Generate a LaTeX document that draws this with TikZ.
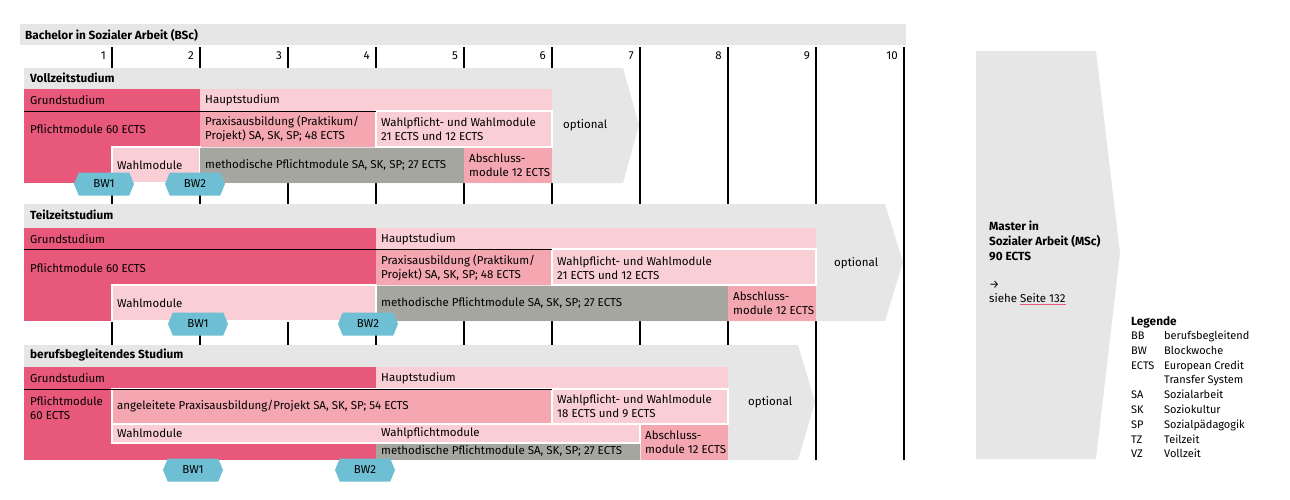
\documentclass[tikz,border=0pt]{standalone}
\usepackage{fontspec}
\setmainfont{Fira Sans}
\usepackage{xcolor}
\usetikzlibrary{shapes.symbols}
\definecolor{grund}{HTML}{E8587A}
\definecolor{haupt}{HTML}{F9CED4}
\definecolor{praxis}{HTML}{F4A7B1}
\definecolor{methgray}{HTML}{A6A6A1}
\definecolor{bggray}{HTML}{E6E6E6}
\definecolor{bwblue}{HTML}{6EBFD4}
\begin{document}
\begin{tikzpicture}[x=1pt,y=-1pt,
  txt/.style={anchor=west,inner sep=0pt,align=left,font=\fontsize{11.5}{14}\selectfont},
  head/.style={txt,font=\fontsize{11.8}{15}\selectfont\bfseries},
  num/.style={txt,anchor=east},
  wbox/.style={draw=white,line width=1.5pt},
  bw/.style={signal,signal to=east and west,signal pointer angle=135,fill=bwblue,
    minimum width=60pt,minimum height=23pt,inner sep=0pt,font=\fontsize{11.5}{14}\selectfont}]
\useasboundingbox (0,0) rectangle (1290,499);
\fill[bggray] (20,24) rectangle (906,45);
\node[head] (bsc) at (25,35) {Bachelor in Sozialer Arbeit (BSc)};
\draw[line width=1.2pt] (112,47) -- (112,460) (200,47) -- (200,460) (288,47) -- (288,460)
  (376,47) -- (376,460) (464,47) -- (464,460) (552,47) -- (552,460) (640,47) -- (640,460)
  (728,47) -- (728,460) (816,47) -- (816,460) (904,47) -- (904,460);
\path (106,56) node[num] (n1) {1} (194,56) node[num] (n2) {2} (282,56) node[num] (n3) {3}
  (370,56) node[num] (n4) {4} (458,56) node[num] (n5) {5} (546,56) node[num] (n6) {6}
  (634,56) node[num] (n7) {7} (722,56) node[num] (n8) {8} (810,56) node[num] (n9) {9}
  (898,56) node[num] (n10) {10};
% Vollzeit
\fill[bggray] (24,68) -- (623,68) -- (639,125) -- (623,183) -- (24,183) -- cycle;
\fill[grund] (24,89) rectangle (200,183);
\fill[haupt] (200,89) rectangle (552,111);
\fill[praxis] (200,111) rectangle (376,147);
\path[fill=haupt,wbox] (376,111) rectangle (552,147);
\draw[line width=0.8pt] (24,111) -- (376,111);
\path[fill=haupt,wbox] (112,147) rectangle (200,183);
\fill[methgray] (200,148) rectangle (464,183);
\fill[praxis] (464,148) rectangle (552,183);
\node[head] (vz) at (30,78) {Vollzeitstudium};
\node[txt] (vzgrund) at (30,100) {Grundstudium};
\node[txt] (vzhaupt) at (205,100) {Hauptstudium};
\node[txt] (vzpflicht) at (30,129) {Pflichtmodule 60 ECTS};
\node[txt] (vzpraxis) at (205,129) {Praxisausbildung (Praktikum/\\Projekt) SA, SK, SP; 48 ECTS};
\node[txt] (vzwahlpf) at (381,129) {Wahlpflicht- und Wahlmodule\\21 ECTS und 12 ECTS};
\node[txt] (vzwahl) at (117,165) {Wahlmodule};
\node[txt] (vzmeth) at (205,165) {methodische Pflichtmodule SA, SK, SP; 27 ECTS};
\node[txt] (vzabschl) at (469,165) {Abschluss-\\module 12 ECTS};
\node[txt] (vzopt) at (563,125) {optional};
\node[bw] (vzbw1) at (104,184) {BW1};
\node[bw] (vzbw2) at (195,184) {BW2};
% Teilzeit
\fill[bggray] (24,204) -- (885,204) -- (903,262) -- (885,321) -- (24,321) -- cycle;
\fill[grund] (24,228) rectangle (376,321);
\fill[haupt] (376,228) rectangle (816,249);
\fill[praxis] (376,249) rectangle (552,285);
\path[fill=haupt,wbox] (552,249) rectangle (816,285);
\draw[line width=0.8pt] (24,249) -- (552,249);
\path[fill=haupt,wbox] (112,285) rectangle (376,321);
\fill[methgray] (377,286) rectangle (728,321);
\fill[praxis] (728,286) rectangle (816,321);
\node[head] (tz) at (30,215) {Teilzeitstudium};
\node[txt] (tzgrund) at (30,239) {Grundstudium};
\node[txt] (tzhaupt) at (381,239) {Hauptstudium};
\node[txt] (tzpflicht) at (30,268) {Pflichtmodule 60 ECTS};
\node[txt] (tzpraxis) at (381,268) {Praxisausbildung (Praktikum/\\Projekt) SA, SK, SP; 48 ECTS};
\node[txt] (tzwahlpf) at (557,268) {Wahlpflicht- und Wahlmodule\\21 ECTS und 12 ECTS};
\node[txt] (tzwahl) at (117,303) {Wahlmodule};
\node[txt] (tzmeth) at (381,303) {methodische Pflichtmodule SA, SK, SP; 27 ECTS};
\node[txt] (tzabschl) at (733,303) {Abschluss-\\module 12 ECTS};
\node[txt] (tzopt) at (834,263) {optional};
\node[bw] (tzbw1) at (198,324) {BW1};
\node[bw] (tzbw2) at (368,324) {BW2};
% berufsbegleitend
\fill[bggray] (24,345) -- (798,345) -- (815,402) -- (798,460) -- (24,460) -- cycle;
\fill[grund] (24,367) rectangle (376,460);
\fill[haupt] (376,367) rectangle (728,389);
\path[fill=praxis,wbox] (112,389) rectangle (552,424);
\path[fill=haupt,wbox] (552,389) rectangle (728,424);
\draw[line width=0.8pt] (24,389) -- (552,389);
\path[fill=haupt,wbox] (112,424) rectangle (640,443);
\fill[methgray] (376,444) rectangle (640,460);
\fill[praxis] (641,425) rectangle (728,460);
\node[head] (bb) at (30,355) {berufsbegleitendes Studium};
\node[txt] (bbgrund) at (30,378) {Grundstudium};
\node[txt] (bbhaupt) at (381,378) {Hauptstudium};
\node[txt] (bbpflicht) at (30,408) {Pflichtmodule\\60 ECTS};
\node[txt] (bbpraxis) at (117,406) {angeleitete Praxisausbildung/Projekt SA, SK, SP; 54 ECTS};
\node[txt] (bbwahlpf) at (557,406) {Wahlpflicht- und Wahlmodule\\18 ECTS und 9 ECTS};
\node[txt] (bbwahl) at (117,433) {Wahlmodule};
\node[txt] (bbwahlpfl) at (381,433) {Wahlpflichtmodule};
\node[txt] (bbmeth) at (381,451) {methodische Pflichtmodule SA, SK, SP; 27 ECTS};
\node[txt] (bbabschl) at (645,442) {Abschluss-\\module 12 ECTS};
\node[txt] (bbopt) at (748,402) {optional};
\node[bw] (bbbw1) at (193,470) {BW1};
\node[bw] (bbbw2) at (365,470) {BW2};
% Master und Legende
\fill[bggray] (976,51) -- (1096,51) -- (1120,253) -- (1096,459) -- (976,459) -- cycle;
\node[head] (msc) at (989,241) {Master in\\Sozialer Arbeit (MSc)\\90 ECTS};
\node[txt] (ref) at (989,293) {→\\siehe {\color{grund}\underline{\color{black}Seite 132}}};
\node[head] (leg) at (1131,322) {Legende};
\node[txt,anchor=north west,font=\fontsize{11}{14.8}\selectfont] (legtab) at (1131,329)
  {\begin{tabular}{@{}p{27pt}@{\hspace{6pt}}l@{}}
  BB & berufsbegleitend\\ BW & Blockwoche\\ ECTS & European Credit\\ & Transfer System\\
  SA & Sozialarbeit\\ SK & Soziokultur\\ SP & Sozialpädagogik\\ TZ & Teilzeit\\ VZ & Vollzeit
  \end{tabular}};
\end{tikzpicture}
\end{document}
